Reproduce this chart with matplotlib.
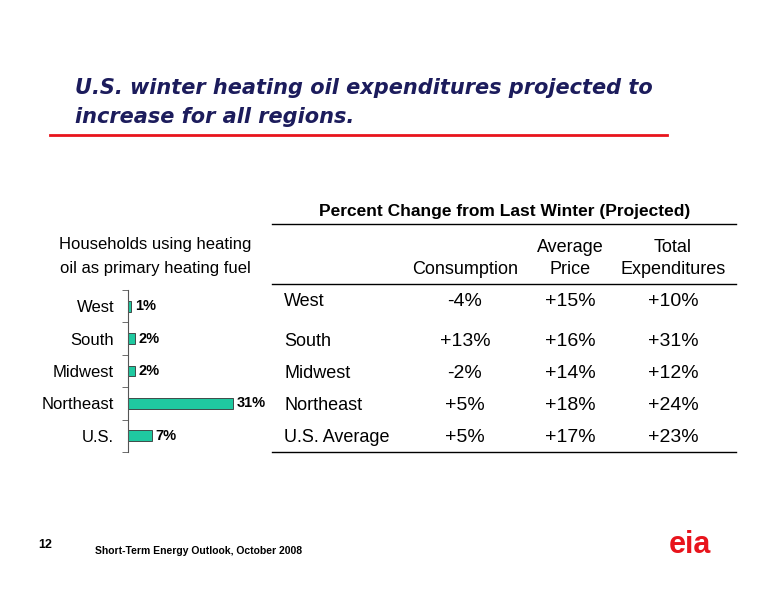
import matplotlib
matplotlib.use("Agg")
import matplotlib.pyplot as plt
from matplotlib.lines import Line2D

plt.rcParams["font.family"] = ["Liberation Sans", "DejaVu Sans"]

W, H = 776, 600

regions = ["West", "South", "Midwest", "Northeast", "U.S."]
households = [1, 2, 2, 31, 7]

row_labels = ["West", "South", "Midwest", "Northeast", "U.S. Average"]
consumption = ["-4%", "+13%", "-2%", "+5%", "+5%"]
avg_price = ["+15%", "+16%", "+14%", "+18%", "+17%"]
total_exp = ["+10%", "+31%", "+12%", "+24%", "+23%"]

NAVY = "#1c1c5c"
RED = "#e8141c"
GREEN = "#1fc9a0"

fig = plt.figure(figsize=(W / 100, H / 100), dpi=100)
fig.patch.set_facecolor("white")


def px(x, y):
    return x / W, 1 - y / H


def txt(x, y, s, **kw):
    fig.text(*px(x, y), s, **kw)


def hline(x0, x1, y, color="black", lw=1.0):
    fig.add_artist(Line2D([x0 / W, x1 / W], [1 - y / H] * 2, color=color, lw=lw))


# Title
txt(75, 88, "U.S. winter heating oil expenditures projected to", fontsize=15,
    fontstyle="italic", fontweight="bold", color=NAVY, va="center", family="DejaVu Sans")
txt(75, 117, "increase for all regions.", fontsize=15,
    fontstyle="italic", fontweight="bold", color=NAVY, va="center", family="DejaVu Sans")
hline(50, 667, 135, color=RED, lw=2)

# Bar chart
ax = fig.add_axes([128 / W, (600 - 452) / H, 145 / W, 162 / H])
ypos = range(len(regions))
ax.barh(ypos, households, height=0.33, color=GREEN, edgecolor="#333333", lw=0.6)
ax.set_xlim(0, 43)
ax.set_ylim(4.5, -0.5)
ax.set_yticks(ypos)
ax.set_yticklabels(regions, fontsize=12)
ax.set_yticks([i + 0.5 for i in range(-1, 5)], minor=True)
ax.tick_params(axis="y", which="major", length=0, pad=10)
ax.tick_params(axis="y", which="minor", length=4, color="#555555")
ax.set_xticks([])
for s in ["top", "right", "bottom"]:
    ax.spines[s].set_visible(False)
ax.spines["left"].set_color("#555555")
for i, v in enumerate(households):
    ax.text(v + 1.2, i, f"{v}%", va="center", ha="left", fontsize=10.5, fontweight="bold")

txt(155, 245, "Households using heating", fontsize=12, ha="center", va="center")
txt(155, 268, "oil as primary heating fuel", fontsize=12, ha="center", va="center")

# Table
txt(505, 212, "Percent Change from Last Winter (Projected)", fontsize=12.5,
    fontweight="bold", ha="center", va="center")
hline(272, 736, 224)
cols = [465, 570, 673]
txt(cols[0], 270, "Consumption", fontsize=13, ha="center", va="center")
txt(cols[1], 248, "Average", fontsize=13, ha="center", va="center")
txt(cols[1], 270, "Price", fontsize=13, ha="center", va="center")
txt(cols[2], 248, "Total", fontsize=13, ha="center", va="center")
txt(cols[2], 270, "Expenditures", fontsize=13, ha="center", va="center")
hline(272, 736, 284)
rows_y = [302, 342, 373, 405, 437]
for y, lab, c, p, t in zip(rows_y, row_labels, consumption, avg_price, total_exp):
    txt(284, y, lab, fontsize=13, va="center")
    for x, s in zip(cols, [c, p, t]):
        txt(x, y, s, fontsize=14, ha="center", va="center")
hline(272, 736, 452)

# Footer
txt(38, 545, "12", fontsize=9, fontweight="bold", va="center")
txt(95, 551, "Short-Term Energy Outlook, October 2008", fontsize=7.5,
    fontweight="bold", va="center")
txt(690, 545, "eia", fontsize=22, fontweight="bold", color=RED,
    ha="center", va="center")

fig.savefig("out.png", dpi=100)
